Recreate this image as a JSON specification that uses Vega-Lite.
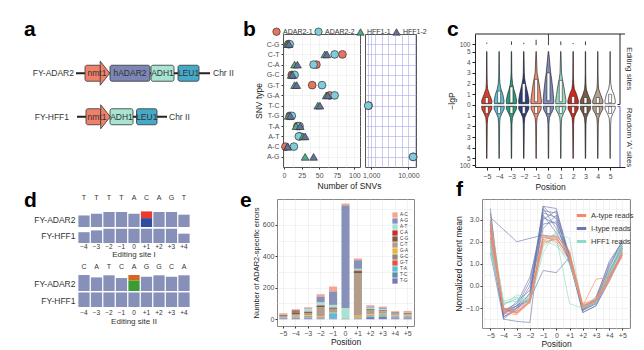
{
"$schema": "https://vega.github.io/schema/vega-lite/v6.json",
"background": "white",
"padding": {"left": 24, "top": 18, "right": 0, "bottom": 0},
"config": {
  "font": "Liberation Sans",
  "view": {"stroke": null},
  "axis": {"labelFontSize": 7, "labelColor": "#4d4d4d", "titleFontSize": 8.5, "titleFontWeight": "normal", "titleColor": "#1a1a1a", "domainColor": "#333333", "tickColor": "#333333", "tickSize": 3, "labelPadding": 2, "titlePadding": 3, "gridColor": "#ebebeb", "gridWidth": 0.6},
  "legend": {"labelFontSize": 7, "labelColor": "#333333"},
  "title": {"fontSize": 21, "fontWeight": "bold", "anchor": "start", "frame": "group", "color": "#000000", "offset": 0, "baseline": "alphabetic"}
},
"datasets": {
  "a_line": [{"row": 1, "s": 76, "e": 210}, {"row": 2, "s": 77, "e": 167}],
  "a_box": [
    {"row": 1, "el": "nmt1", "s": 85, "e": 101, "m": 97},
    {"row": 1, "el": "hADAR2", "s": 110, "e": 150, "m": 130},
    {"row": 1, "el": "ADH1", "s": 151, "e": 174, "m": 162.5},
    {"row": 1, "el": "LEU1", "s": 178, "e": 199, "m": 188.5},
    {"row": 2, "el": "nmt1", "s": 86, "e": 101, "m": 97},
    {"row": 2, "el": "ADH1", "s": 110, "e": 133, "m": 121.5},
    {"row": 2, "el": "LEU1", "s": 136.5, "e": 157, "m": 146.75}
  ],
  "a_head": [{"row": 1, "x": 105}, {"row": 2, "x": 105.5}],
  "a_name": [{"row": 1, "x": 74, "t": "FY-ADAR2"}, {"row": 2, "x": 69, "t": "FY-HFF1"}],
  "a_chr": [{"row": 1, "x": 213, "t": "Chr II"}, {"row": 2, "x": 169, "t": "Chr II"}],
  "snv": [
    {"t": "C-G", "s": "ADAR2-1", "n": 6}, {"t": "C-G", "s": "ADAR2-2", "n": 8}, {"t": "C-G", "s": "HFF1-1", "n": 5}, {"t": "C-G", "s": "HFF1-2", "n": 7},
    {"t": "C-T", "s": "ADAR2-1", "n": 83}, {"t": "C-T", "s": "ADAR2-2", "n": 72}, {"t": "C-T", "s": "HFF1-1", "n": 58}, {"t": "C-T", "s": "HFF1-2", "n": 61},
    {"t": "C-A", "s": "ADAR2-1", "n": 46}, {"t": "C-A", "s": "ADAR2-2", "n": 42}, {"t": "C-A", "s": "HFF1-1", "n": 15}, {"t": "C-A", "s": "HFF1-2", "n": 19},
    {"t": "G-C", "s": "ADAR2-1", "n": 11}, {"t": "G-C", "s": "ADAR2-2", "n": 15}, {"t": "G-C", "s": "HFF1-1", "n": 10}, {"t": "G-C", "s": "HFF1-2", "n": 12},
    {"t": "G-T", "s": "ADAR2-1", "n": 40}, {"t": "G-T", "s": "ADAR2-2", "n": 54}, {"t": "G-T", "s": "HFF1-1", "n": 15}, {"t": "G-T", "s": "HFF1-2", "n": 18},
    {"t": "G-A", "s": "ADAR2-1", "n": 65}, {"t": "G-A", "s": "ADAR2-2", "n": 72}, {"t": "G-A", "s": "HFF1-1", "n": 60}, {"t": "G-A", "s": "HFF1-2", "n": 62},
    {"t": "T-C", "s": "ADAR2-1", "n": 850}, {"t": "T-C", "s": "ADAR2-2", "n": 830}, {"t": "T-C", "s": "HFF1-1", "n": 48}, {"t": "T-C", "s": "HFF1-2", "n": 51},
    {"t": "T-G", "s": "ADAR2-1", "n": 8}, {"t": "T-G", "s": "ADAR2-2", "n": 11}, {"t": "T-G", "s": "HFF1-1", "n": 6}, {"t": "T-G", "s": "HFF1-2", "n": 9},
    {"t": "T-A", "s": "ADAR2-1", "n": 19}, {"t": "T-A", "s": "ADAR2-2", "n": 22}, {"t": "T-A", "s": "HFF1-1", "n": 17}, {"t": "T-A", "s": "HFF1-2", "n": 23},
    {"t": "A-T", "s": "ADAR2-1", "n": 22}, {"t": "A-T", "s": "ADAR2-2", "n": 21}, {"t": "A-T", "s": "HFF1-1", "n": 27}, {"t": "A-T", "s": "HFF1-2", "n": 30},
    {"t": "A-C", "s": "ADAR2-1", "n": 2}, {"t": "A-C", "s": "ADAR2-2", "n": 14}, {"t": "A-C", "s": "HFF1-1", "n": 5}, {"t": "A-C", "s": "HFF1-2", "n": 5},
    {"t": "A-G", "s": "ADAR2-1", "n": 13500}, {"t": "A-G", "s": "ADAR2-2", "n": 13300}, {"t": "A-G", "s": "HFF1-1", "n": 30}, {"t": "A-G", "s": "HFF1-2", "n": 42}
  ],
  "vio": [
    {"p": -5, "h": "E", "y": 0.12, "l": -5.4, "r": -4.6}, {"p": -5, "h": "E", "y": 0.4, "l": -5.42, "r": -4.58}, {"p": -5, "h": "E", "y": 1, "l": -5.22, "r": -4.78}, {"p": -5, "h": "E", "y": 1.5, "l": -5.07, "r": -4.93}, {"p": -5, "h": "E", "y": 2, "l": -5.04, "r": -4.96}, {"p": -5, "h": "E", "y": 2.5, "l": -5.03, "r": -4.97}, {"p": -5, "h": "E", "y": 3, "l": -5.025, "r": -4.975}, {"p": -5, "h": "E", "y": 5, "l": -5.015, "r": -4.985},
    {"p": -4, "h": "E", "y": 0.12, "l": -4.38, "r": -3.62}, {"p": -4, "h": "E", "y": 0.4, "l": -4.4, "r": -3.6}, {"p": -4, "h": "E", "y": 1, "l": -4.3, "r": -3.7}, {"p": -4, "h": "E", "y": 1.5, "l": -4.15, "r": -3.85}, {"p": -4, "h": "E", "y": 2, "l": -4.07, "r": -3.93}, {"p": -4, "h": "E", "y": 2.5, "l": -4.04, "r": -3.96}, {"p": -4, "h": "E", "y": 3, "l": -4.03, "r": -3.97}, {"p": -4, "h": "E", "y": 5, "l": -4.015, "r": -3.985},
    {"p": -3, "h": "E", "y": 0.12, "l": -3.4, "r": -2.6}, {"p": -3, "h": "E", "y": 0.4, "l": -3.42, "r": -2.58}, {"p": -3, "h": "E", "y": 1, "l": -3.32, "r": -2.68}, {"p": -3, "h": "E", "y": 1.5, "l": -3.18, "r": -2.82}, {"p": -3, "h": "E", "y": 2, "l": -3.09, "r": -2.91}, {"p": -3, "h": "E", "y": 2.5, "l": -3.05, "r": -2.95}, {"p": -3, "h": "E", "y": 3, "l": -3.03, "r": -2.97}, {"p": -3, "h": "E", "y": 5, "l": -3.015, "r": -2.985},
    {"p": -2, "h": "E", "y": 0.12, "l": -2.4, "r": -1.6}, {"p": -2, "h": "E", "y": 0.4, "l": -2.42, "r": -1.58}, {"p": -2, "h": "E", "y": 1, "l": -2.34, "r": -1.66}, {"p": -2, "h": "E", "y": 1.5, "l": -2.24, "r": -1.76}, {"p": -2, "h": "E", "y": 2, "l": -2.14, "r": -1.86}, {"p": -2, "h": "E", "y": 2.5, "l": -2.07, "r": -1.93}, {"p": -2, "h": "E", "y": 3, "l": -2.04, "r": -1.96}, {"p": -2, "h": "E", "y": 5, "l": -2.015, "r": -1.985},
    {"p": -1, "h": "E", "y": 0.12, "l": -1.42, "r": -0.58}, {"p": -1, "h": "E", "y": 0.4, "l": -1.43, "r": -0.57}, {"p": -1, "h": "E", "y": 1, "l": -1.36, "r": -0.64}, {"p": -1, "h": "E", "y": 1.5, "l": -1.3, "r": -0.7}, {"p": -1, "h": "E", "y": 2, "l": -1.24, "r": -0.76}, {"p": -1, "h": "E", "y": 2.5, "l": -1.16, "r": -0.84}, {"p": -1, "h": "E", "y": 3, "l": -1.08, "r": -0.92}, {"p": -1, "h": "E", "y": 5, "l": -1.015, "r": -0.985},
    {"p": 0, "h": "E", "y": 0.12, "l": -0.42, "r": 0.42}, {"p": 0, "h": "E", "y": 0.4, "l": -0.43, "r": 0.43}, {"p": 0, "h": "E", "y": 1, "l": -0.39, "r": 0.39}, {"p": 0, "h": "E", "y": 1.5, "l": -0.35, "r": 0.35}, {"p": 0, "h": "E", "y": 2, "l": -0.3, "r": 0.3}, {"p": 0, "h": "E", "y": 2.5, "l": -0.25, "r": 0.25}, {"p": 0, "h": "E", "y": 3, "l": -0.18, "r": 0.18}, {"p": 0, "h": "E", "y": 5, "l": -0.02, "r": 0.02},
    {"p": 1, "h": "E", "y": 0.12, "l": 0.6, "r": 1.4}, {"p": 1, "h": "E", "y": 0.4, "l": 0.58, "r": 1.42}, {"p": 1, "h": "E", "y": 1, "l": 0.66, "r": 1.34}, {"p": 1, "h": "E", "y": 1.5, "l": 0.72, "r": 1.28}, {"p": 1, "h": "E", "y": 2, "l": 0.8, "r": 1.2}, {"p": 1, "h": "E", "y": 2.5, "l": 0.88, "r": 1.12}, {"p": 1, "h": "E", "y": 3, "l": 0.94, "r": 1.06}, {"p": 1, "h": "E", "y": 5, "l": 0.985, "r": 1.015},
    {"p": 2, "h": "E", "y": 0.12, "l": 1.58, "r": 2.42}, {"p": 2, "h": "E", "y": 0.4, "l": 1.57, "r": 2.43}, {"p": 2, "h": "E", "y": 1, "l": 1.72, "r": 2.28}, {"p": 2, "h": "E", "y": 1.5, "l": 1.9, "r": 2.1}, {"p": 2, "h": "E", "y": 2, "l": 1.95, "r": 2.05}, {"p": 2, "h": "E", "y": 2.5, "l": 1.97, "r": 2.03}, {"p": 2, "h": "E", "y": 3, "l": 1.975, "r": 2.025}, {"p": 2, "h": "E", "y": 5, "l": 1.985, "r": 2.015},
    {"p": 3, "h": "E", "y": 0.12, "l": 2.58, "r": 3.42}, {"p": 3, "h": "E", "y": 0.4, "l": 2.58, "r": 3.42}, {"p": 3, "h": "E", "y": 1, "l": 2.8, "r": 3.2}, {"p": 3, "h": "E", "y": 1.5, "l": 2.93, "r": 3.07}, {"p": 3, "h": "E", "y": 2, "l": 2.96, "r": 3.04}, {"p": 3, "h": "E", "y": 2.5, "l": 2.97, "r": 3.03}, {"p": 3, "h": "E", "y": 3, "l": 2.98, "r": 3.02}, {"p": 3, "h": "E", "y": 5, "l": 2.985, "r": 3.015},
    {"p": 4, "h": "E", "y": 0.12, "l": 3.6, "r": 4.4}, {"p": 4, "h": "E", "y": 0.4, "l": 3.58, "r": 4.42}, {"p": 4, "h": "E", "y": 1, "l": 3.78, "r": 4.22}, {"p": 4, "h": "E", "y": 1.5, "l": 3.93, "r": 4.07}, {"p": 4, "h": "E", "y": 2, "l": 3.96, "r": 4.04}, {"p": 4, "h": "E", "y": 2.5, "l": 3.97, "r": 4.03}, {"p": 4, "h": "E", "y": 3, "l": 3.98, "r": 4.02}, {"p": 4, "h": "E", "y": 5, "l": 3.985, "r": 4.015},
    {"p": 5, "h": "E", "y": 0.12, "l": 4.6, "r": 5.4}, {"p": 5, "h": "E", "y": 0.4, "l": 4.58, "r": 5.42}, {"p": 5, "h": "E", "y": 1, "l": 4.7, "r": 5.3}, {"p": 5, "h": "E", "y": 1.5, "l": 4.88, "r": 5.12}, {"p": 5, "h": "E", "y": 2, "l": 4.95, "r": 5.05}, {"p": 5, "h": "E", "y": 2.5, "l": 4.97, "r": 5.03}, {"p": 5, "h": "E", "y": 3, "l": 4.98, "r": 5.02}, {"p": 5, "h": "E", "y": 5, "l": 4.985, "r": 5.015},
    {"p": -5, "h": "R", "y": -0.12, "l": -5.42, "r": -4.58}, {"p": -5, "h": "R", "y": -0.4, "l": -5.4, "r": -4.6}, {"p": -5, "h": "R", "y": -0.8, "l": -5.22, "r": -4.78}, {"p": -5, "h": "R", "y": -1.2, "l": -5.08, "r": -4.92}, {"p": -5, "h": "R", "y": -1.8, "l": -5.04, "r": -4.96}, {"p": -5, "h": "R", "y": -5, "l": -5.015, "r": -4.985},
    {"p": -4, "h": "R", "y": -0.12, "l": -4.42, "r": -3.58}, {"p": -4, "h": "R", "y": -0.4, "l": -4.4, "r": -3.6}, {"p": -4, "h": "R", "y": -0.8, "l": -4.22, "r": -3.78}, {"p": -4, "h": "R", "y": -1.2, "l": -4.08, "r": -3.92}, {"p": -4, "h": "R", "y": -1.8, "l": -4.04, "r": -3.96}, {"p": -4, "h": "R", "y": -5, "l": -4.015, "r": -3.985},
    {"p": -3, "h": "R", "y": -0.12, "l": -3.42, "r": -2.58}, {"p": -3, "h": "R", "y": -0.4, "l": -3.4, "r": -2.6}, {"p": -3, "h": "R", "y": -0.8, "l": -3.22, "r": -2.78}, {"p": -3, "h": "R", "y": -1.2, "l": -3.08, "r": -2.92}, {"p": -3, "h": "R", "y": -1.8, "l": -3.04, "r": -2.96}, {"p": -3, "h": "R", "y": -5, "l": -3.015, "r": -2.985},
    {"p": -2, "h": "R", "y": -0.12, "l": -2.42, "r": -1.58}, {"p": -2, "h": "R", "y": -0.4, "l": -2.4, "r": -1.6}, {"p": -2, "h": "R", "y": -0.8, "l": -2.22, "r": -1.78}, {"p": -2, "h": "R", "y": -1.2, "l": -2.08, "r": -1.92}, {"p": -2, "h": "R", "y": -1.8, "l": -2.04, "r": -1.96}, {"p": -2, "h": "R", "y": -5, "l": -2.015, "r": -1.985},
    {"p": -1, "h": "R", "y": -0.12, "l": -1.42, "r": -0.58}, {"p": -1, "h": "R", "y": -0.4, "l": -1.4, "r": -0.6}, {"p": -1, "h": "R", "y": -0.8, "l": -1.22, "r": -0.78}, {"p": -1, "h": "R", "y": -1.2, "l": -1.08, "r": -0.92}, {"p": -1, "h": "R", "y": -1.8, "l": -1.04, "r": -0.96}, {"p": -1, "h": "R", "y": -5, "l": -1.015, "r": -0.985},
    {"p": 0, "h": "R", "y": -0.12, "l": -0.42, "r": 0.42}, {"p": 0, "h": "R", "y": -0.4, "l": -0.4, "r": 0.4}, {"p": 0, "h": "R", "y": -0.8, "l": -0.22, "r": 0.22}, {"p": 0, "h": "R", "y": -1.2, "l": -0.08, "r": 0.08}, {"p": 0, "h": "R", "y": -1.8, "l": -0.04, "r": 0.04}, {"p": 0, "h": "R", "y": -5, "l": -0.015, "r": 0.015},
    {"p": 1, "h": "R", "y": -0.12, "l": 0.58, "r": 1.42}, {"p": 1, "h": "R", "y": -0.4, "l": 0.6, "r": 1.4}, {"p": 1, "h": "R", "y": -0.8, "l": 0.78, "r": 1.22}, {"p": 1, "h": "R", "y": -1.2, "l": 0.92, "r": 1.08}, {"p": 1, "h": "R", "y": -1.8, "l": 0.96, "r": 1.04}, {"p": 1, "h": "R", "y": -5, "l": 0.985, "r": 1.015},
    {"p": 2, "h": "R", "y": -0.12, "l": 1.58, "r": 2.42}, {"p": 2, "h": "R", "y": -0.4, "l": 1.6, "r": 2.4}, {"p": 2, "h": "R", "y": -0.8, "l": 1.78, "r": 2.22}, {"p": 2, "h": "R", "y": -1.2, "l": 1.92, "r": 2.08}, {"p": 2, "h": "R", "y": -1.8, "l": 1.96, "r": 2.04}, {"p": 2, "h": "R", "y": -5, "l": 1.985, "r": 2.015},
    {"p": 3, "h": "R", "y": -0.12, "l": 2.58, "r": 3.42}, {"p": 3, "h": "R", "y": -0.4, "l": 2.6, "r": 3.4}, {"p": 3, "h": "R", "y": -0.8, "l": 2.78, "r": 3.22}, {"p": 3, "h": "R", "y": -1.2, "l": 2.92, "r": 3.08}, {"p": 3, "h": "R", "y": -1.8, "l": 2.96, "r": 3.04}, {"p": 3, "h": "R", "y": -5, "l": 2.985, "r": 3.015},
    {"p": 4, "h": "R", "y": -0.12, "l": 3.58, "r": 4.42}, {"p": 4, "h": "R", "y": -0.4, "l": 3.6, "r": 4.4}, {"p": 4, "h": "R", "y": -0.8, "l": 3.78, "r": 4.22}, {"p": 4, "h": "R", "y": -1.2, "l": 3.92, "r": 4.08}, {"p": 4, "h": "R", "y": -1.8, "l": 3.96, "r": 4.04}, {"p": 4, "h": "R", "y": -5, "l": 3.985, "r": 4.015},
    {"p": 5, "h": "R", "y": -0.12, "l": 4.58, "r": 5.42}, {"p": 5, "h": "R", "y": -0.4, "l": 4.6, "r": 5.4}, {"p": 5, "h": "R", "y": -0.8, "l": 4.78, "r": 5.22}, {"p": 5, "h": "R", "y": -1.2, "l": 4.92, "r": 5.08}, {"p": 5, "h": "R", "y": -1.8, "l": 4.96, "r": 5.04}, {"p": 5, "h": "R", "y": -5, "l": 4.985, "r": 5.015}
  ],
  "vbox": [
    {"p": -5, "q1": 0.15, "q3": 0.7}, {"p": -4, "q1": 0.2, "q3": 1.3}, {"p": -3, "q1": 0.2, "q3": 1.7}, {"p": -2, "q1": 0.25, "q3": 2.0}, {"p": -1, "q1": 0.3, "q3": 2.4}, {"p": 0, "q1": 0.4, "q3": 3.0}, {"p": 1, "q1": 0.3, "q3": 2.3}, {"p": 2, "q1": 0.15, "q3": 0.8}, {"p": 3, "q1": 0.15, "q3": 0.7}, {"p": 4, "q1": 0.15, "q3": 0.7}, {"p": 5, "q1": 0.2, "q3": 1.0},
    {"p": -5, "q1": -0.15, "q3": -0.8}, {"p": -4, "q1": -0.15, "q3": -0.8}, {"p": -3, "q1": -0.15, "q3": -0.8}, {"p": -2, "q1": -0.15, "q3": -0.8}, {"p": -1, "q1": -0.15, "q3": -0.8}, {"p": 0, "q1": -0.15, "q3": -0.8}, {"p": 1, "q1": -0.15, "q3": -0.8}, {"p": 2, "q1": -0.15, "q3": -0.8}, {"p": 3, "q1": -0.15, "q3": -0.8}, {"p": 4, "q1": -0.15, "q3": -0.8}, {"p": 5, "q1": -0.15, "q3": -0.8}
  ],
  "vout": [
    {"p": -5, "lo": 5.72, "hi": 5.84}, {"p": -3, "lo": 5.62, "hi": 5.95}, {"p": -2, "lo": 5.7, "hi": 5.82}, {"p": -1, "lo": 5.6, "hi": 6.1}, {"p": 0, "lo": 5.6, "hi": 6.64}, {"p": 1, "lo": 5.6, "hi": 5.95}, {"p": 2, "lo": 5.7, "hi": 5.8}, {"p": 3, "lo": 5.6, "hi": 5.95}
  ],
  "cbrk": [
    {"g": "Editing sites", "y1": 0.05, "y2": 6.64, "ym": 3.4},
    {"g": "Random 'A' sites", "y1": -0.15, "y2": -5.8, "ym": -3.05}
  ],
  "dseq": [
    {"s": "I", "m": "FY-ADAR2", "p": "−4", "c": "match", "v": 0.74, "k": 1},
    {"s": "I", "m": "FY-ADAR2", "p": "−3", "c": "match", "v": 0.85, "k": 1},
    {"s": "I", "m": "FY-ADAR2", "p": "−2", "c": "match", "v": 0.96, "k": 1},
    {"s": "I", "m": "FY-ADAR2", "p": "−1", "c": "match", "v": 0.96, "k": 1},
    {"s": "I", "m": "FY-ADAR2", "p": "0", "c": "match", "v": 0.85, "k": 1},
    {"s": "I", "m": "FY-ADAR2", "p": "+1", "c": "C", "v": 0.57, "k": 1},
    {"s": "I", "m": "FY-ADAR2", "p": "+1", "c": "T", "v": 0.43, "k": 2},
    {"s": "I", "m": "FY-ADAR2", "p": "+2", "c": "match", "v": 0.96, "k": 1},
    {"s": "I", "m": "FY-ADAR2", "p": "+3", "c": "match", "v": 0.96, "k": 1},
    {"s": "I", "m": "FY-ADAR2", "p": "+4", "c": "match", "v": 0.79, "k": 1},
    {"s": "I", "m": "FY-HFF1", "p": "−4", "c": "match", "v": 0.72, "k": 1},
    {"s": "I", "m": "FY-HFF1", "p": "−3", "c": "match", "v": 0.84, "k": 1},
    {"s": "I", "m": "FY-HFF1", "p": "−2", "c": "match", "v": 0.95, "k": 1},
    {"s": "I", "m": "FY-HFF1", "p": "−1", "c": "match", "v": 0.95, "k": 1},
    {"s": "I", "m": "FY-HFF1", "p": "0", "c": "match", "v": 0.95, "k": 1},
    {"s": "I", "m": "FY-HFF1", "p": "+1", "c": "match", "v": 0.95, "k": 1},
    {"s": "I", "m": "FY-HFF1", "p": "+2", "c": "match", "v": 0.95, "k": 1},
    {"s": "I", "m": "FY-HFF1", "p": "+3", "c": "match", "v": 0.95, "k": 1},
    {"s": "I", "m": "FY-HFF1", "p": "+4", "c": "match", "v": 0.62, "k": 1},
    {"s": "II", "m": "FY-ADAR2", "p": "−4", "c": "match", "v": 1.0, "k": 1},
    {"s": "II", "m": "FY-ADAR2", "p": "−3", "c": "match", "v": 0.85, "k": 1},
    {"s": "II", "m": "FY-ADAR2", "p": "−2", "c": "match", "v": 0.98, "k": 1},
    {"s": "II", "m": "FY-ADAR2", "p": "−1", "c": "match", "v": 0.81, "k": 1},
    {"s": "II", "m": "FY-ADAR2", "p": "0", "c": "A", "v": 0.66, "k": 1},
    {"s": "II", "m": "FY-ADAR2", "p": "0", "c": "G", "v": 0.34, "k": 2},
    {"s": "II", "m": "FY-ADAR2", "p": "+1", "c": "match", "v": 0.89, "k": 1},
    {"s": "II", "m": "FY-ADAR2", "p": "+2", "c": "match", "v": 0.98, "k": 1},
    {"s": "II", "m": "FY-ADAR2", "p": "+3", "c": "match", "v": 0.89, "k": 1},
    {"s": "II", "m": "FY-ADAR2", "p": "+4", "c": "match", "v": 0.98, "k": 1},
    {"s": "II", "m": "FY-HFF1", "p": "−4", "c": "match", "v": 0.97, "k": 1},
    {"s": "II", "m": "FY-HFF1", "p": "−3", "c": "match", "v": 0.97, "k": 1},
    {"s": "II", "m": "FY-HFF1", "p": "−2", "c": "match", "v": 0.97, "k": 1},
    {"s": "II", "m": "FY-HFF1", "p": "−1", "c": "match", "v": 0.97, "k": 1},
    {"s": "II", "m": "FY-HFF1", "p": "0", "c": "match", "v": 0.97, "k": 1},
    {"s": "II", "m": "FY-HFF1", "p": "+1", "c": "match", "v": 0.97, "k": 1},
    {"s": "II", "m": "FY-HFF1", "p": "+2", "c": "match", "v": 0.97, "k": 1},
    {"s": "II", "m": "FY-HFF1", "p": "+3", "c": "match", "v": 0.97, "k": 1},
    {"s": "II", "m": "FY-HFF1", "p": "+4", "c": "match", "v": 0.97, "k": 1}
  ],
  "dlet": [
    {"s": "I", "p": "−4", "nt": "T"}, {"s": "I", "p": "−3", "nt": "T"}, {"s": "I", "p": "−2", "nt": "T"}, {"s": "I", "p": "−1", "nt": "T"}, {"s": "I", "p": "0", "nt": "A"}, {"s": "I", "p": "+1", "nt": "C"}, {"s": "I", "p": "+2", "nt": "A"}, {"s": "I", "p": "+3", "nt": "G"}, {"s": "I", "p": "+4", "nt": "T"},
    {"s": "II", "p": "−4", "nt": "C"}, {"s": "II", "p": "−3", "nt": "A"}, {"s": "II", "p": "−2", "nt": "T"}, {"s": "II", "p": "−1", "nt": "C"}, {"s": "II", "p": "0", "nt": "A"}, {"s": "II", "p": "+1", "nt": "G"}, {"s": "II", "p": "+2", "nt": "G"}, {"s": "II", "p": "+3", "nt": "C"}, {"s": "II", "p": "+4", "nt": "A"}
  ],
  "dsite": [{"s": "I", "t": "Editing site I"}, {"s": "II", "t": "Editing site II"}],
  "err": [
    {"p": "−5", "t": "A-C", "n": 5}, {"p": "−5", "t": "A-G", "n": 4}, {"p": "−5", "t": "A-T", "n": 2}, {"p": "−5", "t": "C-A", "n": 2}, {"p": "−5", "t": "C-G", "n": 5}, {"p": "−5", "t": "C-T", "n": 6}, {"p": "−5", "t": "G-A", "n": 3}, {"p": "−5", "t": "G-C", "n": 2}, {"p": "−5", "t": "G-T", "n": 1}, {"p": "−5", "t": "T-A", "n": 2}, {"p": "−5", "t": "T-C", "n": 3}, {"p": "−5", "t": "T-G", "n": 3},
    {"p": "−4", "t": "A-C", "n": 6}, {"p": "−4", "t": "A-G", "n": 5}, {"p": "−4", "t": "A-T", "n": 3}, {"p": "−4", "t": "C-A", "n": 8}, {"p": "−4", "t": "C-G", "n": 8}, {"p": "−4", "t": "C-T", "n": 12}, {"p": "−4", "t": "G-A", "n": 6}, {"p": "−4", "t": "G-C", "n": 3}, {"p": "−4", "t": "G-T", "n": 2}, {"p": "−4", "t": "T-A", "n": 3}, {"p": "−4", "t": "T-C", "n": 4}, {"p": "−4", "t": "T-G", "n": 4},
    {"p": "−3", "t": "A-C", "n": 8}, {"p": "−3", "t": "A-G", "n": 5}, {"p": "−3", "t": "A-T", "n": 15}, {"p": "−3", "t": "C-A", "n": 2}, {"p": "−3", "t": "C-G", "n": 6}, {"p": "−3", "t": "C-T", "n": 15}, {"p": "−3", "t": "G-A", "n": 6}, {"p": "−3", "t": "G-C", "n": 4}, {"p": "−3", "t": "G-T", "n": 3}, {"p": "−3", "t": "T-A", "n": 4}, {"p": "−3", "t": "T-C", "n": 4}, {"p": "−3", "t": "T-G", "n": 4},
    {"p": "−2", "t": "A-C", "n": 15}, {"p": "−2", "t": "A-G", "n": 38}, {"p": "−2", "t": "A-T", "n": 17}, {"p": "−2", "t": "C-A", "n": 2}, {"p": "−2", "t": "C-G", "n": 13}, {"p": "−2", "t": "C-T", "n": 57}, {"p": "−2", "t": "G-A", "n": 4}, {"p": "−2", "t": "G-C", "n": 3}, {"p": "−2", "t": "G-T", "n": 2}, {"p": "−2", "t": "T-A", "n": 3}, {"p": "−2", "t": "T-C", "n": 2}, {"p": "−2", "t": "T-G", "n": 3},
    {"p": "−1", "t": "A-C", "n": 32}, {"p": "−1", "t": "A-G", "n": 85}, {"p": "−1", "t": "A-T", "n": 17}, {"p": "−1", "t": "C-A", "n": 2}, {"p": "−1", "t": "C-G", "n": 6}, {"p": "−1", "t": "C-T", "n": 23}, {"p": "−1", "t": "G-A", "n": 2}, {"p": "−1", "t": "G-C", "n": 2}, {"p": "−1", "t": "G-T", "n": 1}, {"p": "−1", "t": "T-A", "n": 32}, {"p": "−1", "t": "T-C", "n": 3}, {"p": "−1", "t": "T-G", "n": 3},
    {"p": "0", "t": "A-C", "n": 13}, {"p": "0", "t": "A-G", "n": 652}, {"p": "0", "t": "A-T", "n": 64}, {"p": "0", "t": "C-A", "n": 0}, {"p": "0", "t": "C-G", "n": 0}, {"p": "0", "t": "C-T", "n": 1}, {"p": "0", "t": "G-A", "n": 1}, {"p": "0", "t": "G-C", "n": 1}, {"p": "0", "t": "G-T", "n": 0}, {"p": "0", "t": "T-A", "n": 1}, {"p": "0", "t": "T-C", "n": 1}, {"p": "0", "t": "T-G", "n": 1},
    {"p": "+1", "t": "A-C", "n": 11}, {"p": "+1", "t": "A-G", "n": 55}, {"p": "+1", "t": "A-T", "n": 11}, {"p": "+1", "t": "C-A", "n": 3}, {"p": "+1", "t": "C-G", "n": 16}, {"p": "+1", "t": "C-T", "n": 268}, {"p": "+1", "t": "G-A", "n": 11}, {"p": "+1", "t": "G-C", "n": 3}, {"p": "+1", "t": "G-T", "n": 2}, {"p": "+1", "t": "T-A", "n": 2}, {"p": "+1", "t": "T-C", "n": 2}, {"p": "+1", "t": "T-G", "n": 2},
    {"p": "+2", "t": "A-C", "n": 8}, {"p": "+2", "t": "A-G", "n": 8}, {"p": "+2", "t": "A-T", "n": 8}, {"p": "+2", "t": "C-A", "n": 2}, {"p": "+2", "t": "C-G", "n": 8}, {"p": "+2", "t": "C-T", "n": 25}, {"p": "+2", "t": "G-A", "n": 6}, {"p": "+2", "t": "G-C", "n": 3}, {"p": "+2", "t": "G-T", "n": 2}, {"p": "+2", "t": "T-A", "n": 5}, {"p": "+2", "t": "T-C", "n": 6}, {"p": "+2", "t": "T-G", "n": 8},
    {"p": "+3", "t": "A-C", "n": 6}, {"p": "+3", "t": "A-G", "n": 8}, {"p": "+3", "t": "A-T", "n": 8}, {"p": "+3", "t": "C-A", "n": 2}, {"p": "+3", "t": "C-G", "n": 6}, {"p": "+3", "t": "C-T", "n": 15}, {"p": "+3", "t": "G-A", "n": 5}, {"p": "+3", "t": "G-C", "n": 3}, {"p": "+3", "t": "G-T", "n": 2}, {"p": "+3", "t": "T-A", "n": 8}, {"p": "+3", "t": "T-C", "n": 9}, {"p": "+3", "t": "T-G", "n": 8},
    {"p": "+4", "t": "A-C", "n": 5}, {"p": "+4", "t": "A-G", "n": 6}, {"p": "+4", "t": "A-T", "n": 3}, {"p": "+4", "t": "C-A", "n": 2}, {"p": "+4", "t": "C-G", "n": 4}, {"p": "+4", "t": "C-T", "n": 6}, {"p": "+4", "t": "G-A", "n": 4}, {"p": "+4", "t": "G-C", "n": 3}, {"p": "+4", "t": "G-T", "n": 2}, {"p": "+4", "t": "T-A", "n": 5}, {"p": "+4", "t": "T-C", "n": 5}, {"p": "+4", "t": "T-G", "n": 6},
    {"p": "+5", "t": "A-C", "n": 6}, {"p": "+5", "t": "A-G", "n": 5}, {"p": "+5", "t": "A-T", "n": 3}, {"p": "+5", "t": "C-A", "n": 2}, {"p": "+5", "t": "C-G", "n": 5}, {"p": "+5", "t": "C-T", "n": 8}, {"p": "+5", "t": "G-A", "n": 5}, {"p": "+5", "t": "G-C", "n": 3}, {"p": "+5", "t": "G-T", "n": 2}, {"p": "+5", "t": "T-A", "n": 4}, {"p": "+5", "t": "T-C", "n": 4}, {"p": "+5", "t": "T-G", "n": 6}
  ],
  "cur": [
    {"g":"I","r":"I1","p":-5,"v":3.5},{"g":"I","r":"I1","p":-4,"v":-1.5},{"g":"I","r":"I1","p":-3,"v":-1.0},{"g":"I","r":"I1","p":-2,"v":-0.5},{"g":"I","r":"I1","p":-1,"v":3.6},{"g":"I","r":"I1","p":0,"v":3.5},{"g":"I","r":"I1","p":1,"v":1.2},{"g":"I","r":"I1","p":2,"v":-1.1},{"g":"I","r":"I1","p":3,"v":-0.8},{"g":"I","r":"I1","p":4,"v":0.6},{"g":"I","r":"I1","p":5,"v":1.9},
    {"g":"I","r":"I2","p":-5,"v":3.3},{"g":"I","r":"I2","p":-4,"v":-1.4},{"g":"I","r":"I2","p":-3,"v":-1.1},{"g":"I","r":"I2","p":-2,"v":-0.3},{"g":"I","r":"I2","p":-1,"v":3.4},{"g":"I","r":"I2","p":0,"v":3.3},{"g":"I","r":"I2","p":1,"v":1.3},{"g":"I","r":"I2","p":2,"v":-1.0},{"g":"I","r":"I2","p":3,"v":-0.7},{"g":"I","r":"I2","p":4,"v":0.5},{"g":"I","r":"I2","p":5,"v":1.8},
    {"g":"I","r":"I3","p":-5,"v":3.0},{"g":"I","r":"I3","p":-4,"v":-1.3},{"g":"I","r":"I3","p":-3,"v":-0.9},{"g":"I","r":"I3","p":-2,"v":0.2},{"g":"I","r":"I3","p":-1,"v":3.3},{"g":"I","r":"I3","p":0,"v":3.1},{"g":"I","r":"I3","p":1,"v":1.1},{"g":"I","r":"I3","p":2,"v":-1.2},{"g":"I","r":"I3","p":3,"v":-0.9},{"g":"I","r":"I3","p":4,"v":0.3},{"g":"I","r":"I3","p":5,"v":1.6},
    {"g":"I","r":"I4","p":-5,"v":2.8},{"g":"I","r":"I4","p":-4,"v":-1.2},{"g":"I","r":"I4","p":-3,"v":-1.0},{"g":"I","r":"I4","p":-2,"v":-0.6},{"g":"I","r":"I4","p":-1,"v":3.0},{"g":"I","r":"I4","p":0,"v":3.4},{"g":"I","r":"I4","p":1,"v":1.4},{"g":"I","r":"I4","p":2,"v":-1.0},{"g":"I","r":"I4","p":3,"v":-0.6},{"g":"I","r":"I4","p":4,"v":0.8},{"g":"I","r":"I4","p":5,"v":2.1},
    {"g":"I","r":"I5","p":-5,"v":2.5},{"g":"I","r":"I5","p":-4,"v":-1.1},{"g":"I","r":"I5","p":-3,"v":-0.8},{"g":"I","r":"I5","p":-2,"v":0.4},{"g":"I","r":"I5","p":-1,"v":2.8},{"g":"I","r":"I5","p":0,"v":2.9},{"g":"I","r":"I5","p":1,"v":1.0},{"g":"I","r":"I5","p":2,"v":-0.9},{"g":"I","r":"I5","p":3,"v":-0.7},{"g":"I","r":"I5","p":4,"v":0.7},{"g":"I","r":"I5","p":5,"v":1.7},
    {"g":"I","r":"I6","p":-5,"v":2.2},{"g":"I","r":"I6","p":-4,"v":-1.0},{"g":"I","r":"I6","p":-3,"v":-1.2},{"g":"I","r":"I6","p":-2,"v":-0.7},{"g":"I","r":"I6","p":-1,"v":3.5},{"g":"I","r":"I6","p":0,"v":2.6},{"g":"I","r":"I6","p":1,"v":1.5},{"g":"I","r":"I6","p":2,"v":-1.1},{"g":"I","r":"I6","p":3,"v":-0.8},{"g":"I","r":"I6","p":4,"v":0.4},{"g":"I","r":"I6","p":5,"v":1.5},
    {"g":"I","r":"I7","p":-5,"v":1.8},{"g":"I","r":"I7","p":-4,"v":-1.3},{"g":"I","r":"I7","p":-3,"v":-0.7},{"g":"I","r":"I7","p":-2,"v":-0.2},{"g":"I","r":"I7","p":-1,"v":2.6},{"g":"I","r":"I7","p":0,"v":3.2},{"g":"I","r":"I7","p":1,"v":1.2},{"g":"I","r":"I7","p":2,"v":-1.0},{"g":"I","r":"I7","p":3,"v":-0.5},{"g":"I","r":"I7","p":4,"v":1.0},{"g":"I","r":"I7","p":5,"v":2.0},
    {"g":"I","r":"I8","p":-5,"v":1.5},{"g":"I","r":"I8","p":-4,"v":-1.5},{"g":"I","r":"I8","p":-3,"v":-1.6},{"g":"I","r":"I8","p":-2,"v":-1.65},{"g":"I","r":"I8","p":-1,"v":3.2},{"g":"I","r":"I8","p":0,"v":2.4},{"g":"I","r":"I8","p":1,"v":1.3},{"g":"I","r":"I8","p":2,"v":-1.2},{"g":"I","r":"I8","p":3,"v":-0.9},{"g":"I","r":"I8","p":4,"v":0.2},{"g":"I","r":"I8","p":5,"v":1.4},
    {"g":"I","r":"I9","p":-5,"v":3.1},{"g":"I","r":"I9","p":-4,"v":2.55},{"g":"I","r":"I9","p":-3,"v":2.0},{"g":"I","r":"I9","p":-2,"v":2.15},{"g":"I","r":"I9","p":-1,"v":2.3},{"g":"I","r":"I9","p":0,"v":2.2},{"g":"I","r":"I9","p":1,"v":1.2},{"g":"I","r":"I9","p":2,"v":-1.0},{"g":"I","r":"I9","p":3,"v":-0.8},{"g":"I","r":"I9","p":4,"v":0.5},{"g":"I","r":"I9","p":5,"v":1.7},
    {"g":"I","r":"I10","p":-5,"v":2.6},{"g":"I","r":"I10","p":-4,"v":-1.2},{"g":"I","r":"I10","p":-3,"v":-0.9},{"g":"I","r":"I10","p":-2,"v":-0.6},{"g":"I","r":"I10","p":-1,"v":0.7},{"g":"I","r":"I10","p":0,"v":0.6},{"g":"I","r":"I10","p":1,"v":1.3},{"g":"I","r":"I10","p":2,"v":-0.9},{"g":"I","r":"I10","p":3,"v":-0.7},{"g":"I","r":"I10","p":4,"v":0.6},{"g":"I","r":"I10","p":5,"v":1.8},
    {"g":"I","r":"I11","p":-5,"v":2.0},{"g":"I","r":"I11","p":-4,"v":-1.4},{"g":"I","r":"I11","p":-3,"v":-1.0},{"g":"I","r":"I11","p":-2,"v":0.0},{"g":"I","r":"I11","p":-1,"v":3.1},{"g":"I","r":"I11","p":0,"v":2.8},{"g":"I","r":"I11","p":1,"v":1.1},{"g":"I","r":"I11","p":2,"v":-1.1},{"g":"I","r":"I11","p":3,"v":-0.6},{"g":"I","r":"I11","p":4,"v":1.1},{"g":"I","r":"I11","p":5,"v":2.0},
    {"g":"I","r":"I12","p":-5,"v":2.9},{"g":"I","r":"I12","p":-4,"v":-1.1},{"g":"I","r":"I12","p":-3,"v":-0.9},{"g":"I","r":"I12","p":-2,"v":-0.4},{"g":"I","r":"I12","p":-1,"v":3.6},{"g":"I","r":"I12","p":0,"v":3.0},{"g":"I","r":"I12","p":1,"v":1.4},{"g":"I","r":"I12","p":2,"v":-1.05},{"g":"I","r":"I12","p":3,"v":-0.75},{"g":"I","r":"I12","p":4,"v":0.9},{"g":"I","r":"I12","p":5,"v":1.9},
    {"g":"H","r":"H1","p":-5,"v":3.0},{"g":"H","r":"H1","p":-4,"v":-0.7},{"g":"H","r":"H1","p":-3,"v":-0.5},{"g":"H","r":"H1","p":-2,"v":-0.7},{"g":"H","r":"H1","p":-1,"v":2.0},{"g":"H","r":"H1","p":0,"v":2.4},{"g":"H","r":"H1","p":1,"v":2.15},{"g":"H","r":"H1","p":2,"v":-1.0},{"g":"H","r":"H1","p":3,"v":-0.7},{"g":"H","r":"H1","p":4,"v":0.5},{"g":"H","r":"H1","p":5,"v":1.8},
    {"g":"H","r":"H2","p":-5,"v":2.0},{"g":"H","r":"H2","p":-4,"v":-0.8},{"g":"H","r":"H2","p":-3,"v":-0.6},{"g":"H","r":"H2","p":-2,"v":-0.8},{"g":"H","r":"H2","p":-1,"v":1.8},{"g":"H","r":"H2","p":0,"v":2.2},{"g":"H","r":"H2","p":1,"v":-0.8},{"g":"H","r":"H2","p":2,"v":-1.0},{"g":"H","r":"H2","p":3,"v":-0.8},{"g":"H","r":"H2","p":4,"v":0.6},{"g":"H","r":"H2","p":5,"v":1.9},
    {"g":"H","r":"H3","p":-5,"v":1.6},{"g":"H","r":"H3","p":-4,"v":-0.9},{"g":"H","r":"H3","p":-3,"v":-0.4},{"g":"H","r":"H3","p":-2,"v":-0.6},{"g":"H","r":"H3","p":-1,"v":2.3},{"g":"H","r":"H3","p":0,"v":1.9},{"g":"H","r":"H3","p":1,"v":1.0},{"g":"H","r":"H3","p":2,"v":-0.9},{"g":"H","r":"H3","p":3,"v":-0.6},{"g":"H","r":"H3","p":4,"v":0.4},{"g":"H","r":"H3","p":5,"v":1.7},
    {"g":"H","r":"H4","p":-5,"v":2.5},{"g":"H","r":"H4","p":-4,"v":-0.75},{"g":"H","r":"H4","p":-3,"v":-0.7},{"g":"H","r":"H4","p":-2,"v":-0.75},{"g":"H","r":"H4","p":-1,"v":1.5},{"g":"H","r":"H4","p":0,"v":2.5},{"g":"H","r":"H4","p":1,"v":1.3},{"g":"H","r":"H4","p":2,"v":-0.95},{"g":"H","r":"H4","p":3,"v":-0.75},{"g":"H","r":"H4","p":4,"v":0.7},{"g":"H","r":"H4","p":5,"v":2.0},
    {"g":"H","r":"H5","p":-5,"v":1.8},{"g":"H","r":"H5","p":-4,"v":-0.85},{"g":"H","r":"H5","p":-3,"v":-0.55},{"g":"H","r":"H5","p":-2,"v":-0.65},{"g":"H","r":"H5","p":-1,"v":2.1},{"g":"H","r":"H5","p":0,"v":1.8},{"g":"H","r":"H5","p":1,"v":1.2},{"g":"H","r":"H5","p":2,"v":-1.0},{"g":"H","r":"H5","p":3,"v":-0.65},{"g":"H","r":"H5","p":4,"v":0.55},{"g":"H","r":"H5","p":5,"v":1.6},
    {"g":"A","r":"A1","p":-5,"v":3.0},{"g":"A","r":"A1","p":-4,"v":-1.1},{"g":"A","r":"A1","p":-3,"v":-1.2},{"g":"A","r":"A1","p":-2,"v":-0.7},{"g":"A","r":"A1","p":-1,"v":2.2},{"g":"A","r":"A1","p":0,"v":2.3},{"g":"A","r":"A1","p":1,"v":1.5},{"g":"A","r":"A1","p":2,"v":-0.8},{"g":"A","r":"A1","p":3,"v":-0.6},{"g":"A","r":"A1","p":4,"v":0.3},{"g":"A","r":"A1","p":5,"v":1.5},
    {"g":"A","r":"A2","p":-5,"v":2.7},{"g":"A","r":"A2","p":-4,"v":-1.2},{"g":"A","r":"A2","p":-3,"v":-1.3},{"g":"A","r":"A2","p":-2,"v":-0.7},{"g":"A","r":"A2","p":-1,"v":2.0},{"g":"A","r":"A2","p":0,"v":2.1},{"g":"A","r":"A2","p":1,"v":1.4},{"g":"A","r":"A2","p":2,"v":-0.9},{"g":"A","r":"A2","p":3,"v":0.3},{"g":"A","r":"A2","p":4,"v":0.4},{"g":"A","r":"A2","p":5,"v":1.3},
    {"g":"A","r":"A3","p":-5,"v":2.5},{"g":"A","r":"A3","p":-4,"v":-1.0},{"g":"A","r":"A3","p":-3,"v":-1.1},{"g":"A","r":"A3","p":-2,"v":-0.6},{"g":"A","r":"A3","p":-1,"v":2.3},{"g":"A","r":"A3","p":0,"v":2.0},{"g":"A","r":"A3","p":1,"v":1.2},{"g":"A","r":"A3","p":2,"v":-1.0},{"g":"A","r":"A3","p":3,"v":-0.7},{"g":"A","r":"A3","p":4,"v":0.2},{"g":"A","r":"A3","p":5,"v":1.6},
    {"g":"A","r":"A4","p":-5,"v":2.2},{"g":"A","r":"A4","p":-4,"v":-1.1},{"g":"A","r":"A4","p":-3,"v":-1.25},{"g":"A","r":"A4","p":-2,"v":-0.75},{"g":"A","r":"A4","p":-1,"v":1.9},{"g":"A","r":"A4","p":0,"v":2.2},{"g":"A","r":"A4","p":1,"v":1.3},{"g":"A","r":"A4","p":2,"v":-0.85},{"g":"A","r":"A4","p":3,"v":-0.65},{"g":"A","r":"A4","p":4,"v":0.5},{"g":"A","r":"A4","p":5,"v":1.4},
    {"g":"A","r":"A5","p":-5,"v":2.9},{"g":"A","r":"A5","p":-4,"v":-1.15},{"g":"A","r":"A5","p":-3,"v":-1.15},{"g":"A","r":"A5","p":-2,"v":-0.65},{"g":"A","r":"A5","p":-1,"v":2.1},{"g":"A","r":"A5","p":0,"v":2.25},{"g":"A","r":"A5","p":1,"v":1.6},{"g":"A","r":"A5","p":2,"v":-0.95},{"g":"A","r":"A5","p":3,"v":-0.6},{"g":"A","r":"A5","p":4,"v":0.35},{"g":"A","r":"A5","p":5,"v":1.5},
    {"g":"A","r":"A6","p":-5,"v":2.4},{"g":"A","r":"A6","p":-4,"v":-1.05},{"g":"A","r":"A6","p":-3,"v":-1.2},{"g":"A","r":"A6","p":-2,"v":-0.7},{"g":"A","r":"A6","p":-1,"v":2.2},{"g":"A","r":"A6","p":0,"v":2.1},{"g":"A","r":"A6","p":1,"v":1.35},{"g":"A","r":"A6","p":2,"v":-0.9},{"g":"A","r":"A6","p":3,"v":-0.7},{"g":"A","r":"A6","p":4,"v":0.3},{"g":"A","r":"A6","p":5,"v":1.45}
  ]
},
"spacing": -13,
"resolve": {"scale": {"color": "independent", "shape": "independent", "stroke": "independent"}},
"vconcat": [
 {
  "spacing": 5,
  "bounds": "flush",
  "resolve": {"scale": {"color": "independent", "shape": "independent", "stroke": "independent"}},
  "hconcat": [
  {
    "width": 200, "height": 133,
    "title": {"text": "a", "dx": -54, "dy": 10},
    "layer": [
      {"data": {"name": "a_line"}, "mark": {"type": "rule", "strokeWidth": 2, "color": "#222222"},
       "encoding": {
         "x": {"field": "s", "type": "quantitative", "scale": {"domain": [78, 278], "nice": false, "zero": false}, "axis": null},
         "x2": {"field": "e"},
         "y": {"field": "row", "type": "quantitative", "scale": {"domain": [0.213, 3.04], "reverse": true, "nice": false, "zero": false}, "axis": null}}},
      {"data": {"name": "a_box"}, "mark": {"type": "bar", "height": 16, "cornerRadius": 2, "stroke": "#333333", "strokeWidth": 0.8},
       "encoding": {
         "x": {"field": "s", "type": "quantitative"}, "x2": {"field": "e"},
         "y": {"field": "row", "type": "quantitative"},
         "color": {"field": "el", "type": "nominal", "scale": {"domain": ["nmt1", "hADAR2", "ADH1", "LEU1"], "range": ["#EF8069", "#7C85B4", "#A8E4D1", "#45AAC7"]}, "legend": null}}},
      {"data": {"name": "a_head"}, "mark": {"type": "point", "shape": "M-0.4,-1L0.4,0L-0.4,1Z", "size": 576, "filled": true, "fill": "#EF8069", "stroke": "#333333", "strokeWidth": 0.8, "opacity": 1},
       "encoding": {"x": {"field": "x", "type": "quantitative"}, "y": {"field": "row", "type": "quantitative"}}},
      {"data": {"name": "a_box"}, "mark": {"type": "text", "fontSize": 8.5, "color": "#333333"},
       "encoding": {"x": {"field": "m", "type": "quantitative"}, "y": {"field": "row", "type": "quantitative"}, "text": {"field": "el"}}},
      {"data": {"name": "a_name"}, "mark": {"type": "text", "fontSize": 8.5, "color": "#333333", "align": "right"},
       "encoding": {"x": {"field": "x", "type": "quantitative"}, "y": {"field": "row", "type": "quantitative"}, "text": {"field": "t"}}},
      {"data": {"name": "a_chr"}, "mark": {"type": "text", "fontSize": 8.5, "color": "#333333", "align": "left"},
       "encoding": {"x": {"field": "x", "type": "quantitative"}, "y": {"field": "row", "type": "quantitative"}, "text": {"field": "t"}}}
    ]
  },
  {
    "width": 77, "height": 133,
    "title": {"text": "b", "dx": -40, "dy": 17},
    "data": {"name": "snv"},
    "transform": [{"filter": "datum.n <= 100"}],
    "mark": {"type": "point", "filled": true, "size": 60, "stroke": "#333333", "strokeWidth": 0.7, "opacity": 1},
    "view": {"stroke": "#555555"},
    "encoding": {
      "y": {"field": "t", "type": "nominal", "sort": ["C-G", "C-T", "C-A", "G-C", "G-T", "G-A", "T-C", "T-G", "T-A", "A-T", "A-C", "A-G"], "scale": {"domain": ["C-G", "C-T", "C-A", "G-C", "G-T", "G-A", "T-C", "T-G", "T-A", "A-T", "A-C", "A-G"], "padding": 0.99}, "axis": {"title": "SNV type", "grid": true, "domain": false, "tickSize": 2}},
      "x": {"field": "n", "type": "quantitative", "scale": {"domain": [-1.5, 108], "nice": false, "zero": false}, "axis": {"values": [0, 12.5, 25, 37.5, 50, 62.5, 75, 87.5, 100], "tickCount": 20, "labelExpr": "datum.value % 25 ? '' : datum.label", "tickOpacity": {"condition": {"test": "datum.value % 25", "value": 0}, "value": 1}, "title": "Number of SNVs", "titleX": 66, "domain": false, "tickSize": 2}},
      "color": {"field": "s", "type": "nominal", "scale": {"domain": ["ADAR2-1", "ADAR2-2", "HFF1-1", "HFF1-2"], "range": ["#E8735F", "#7FCCDA", "#4FA98A", "#65709F"]}, "legend": {"orient": "none", "legendX": -11, "legendY": -7, "direction": "horizontal", "title": null, "labelFontSize": 7, "symbolSize": 55, "columnPadding": 0, "labelOffset": 2, "symbolStrokeColor": "#333333", "symbolStrokeWidth": 0.7}},
      "shape": {"field": "s", "type": "nominal", "scale": {"domain": ["ADAR2-1", "ADAR2-2", "HFF1-1", "HFF1-2"], "range": ["circle", "circle", "triangle-up", "triangle-up"]}, "legend": {"orient": "none", "legendX": -11, "legendY": -7, "direction": "horizontal", "title": null, "labelFontSize": 7, "symbolSize": 55, "columnPadding": 0, "labelOffset": 2, "symbolStrokeColor": "#333333", "symbolStrokeWidth": 0.7}}
    }
  },
  {
    "width": 51, "height": 133,
    "data": {"name": "snv"},
    "transform": [{"filter": "datum.n > 100"}],
    "mark": {"type": "point", "filled": true, "size": 60, "stroke": "#333333", "strokeWidth": 0.7, "opacity": 1},
    "view": {"stroke": "#555555"},
    "encoding": {
      "y": {"field": "t", "type": "nominal", "scale": {"domain": ["C-G", "C-T", "C-A", "G-C", "G-T", "G-A", "T-C", "T-G", "T-A", "A-T", "A-C", "A-G"], "padding": 0.99}, "axis": {"labels": false, "ticks": false, "domain": false, "title": null, "grid": true, "gridColor": "#a9a9ea"}},
      "x": {"field": "n", "type": "quantitative", "scale": {"type": "log", "domain": [680, 16000], "nice": false}, "axis": {"values": [800, 1000, 1300, 1900, 2900, 4300, 6600, 10000, 14900], "tickCount": 20, "labelExpr": "datum.value == 1000 ? '1,000' : datum.value == 10000 ? '10,000' : ''", "tickOpacity": {"condition": {"test": "datum.value == 1000 || datum.value == 10000", "value": 1}, "value": 0}, "title": null, "gridColor": "#a9a9ea", "domain": false, "tickSize": 2}},
      "color": {"field": "s", "type": "nominal", "scale": {"domain": ["ADAR2-1", "ADAR2-2", "HFF1-1", "HFF1-2"], "range": ["#E8735F", "#7FCCDA", "#4FA98A", "#65709F"]}, "legend": null},
      "shape": {"field": "s", "type": "nominal", "scale": {"domain": ["ADAR2-1", "ADAR2-2", "HFF1-1", "HFF1-2"], "range": ["circle", "circle", "triangle-up", "triangle-up"]}, "legend": null}
    }
  },
  {"width": 49, "height": 1, "data": {"values": []}, "mark": {"type": "point"}, "encoding": {}},
  {
    "width": 150, "height": 133,
    "title": {"text": "c", "dx": -28, "dy": 10},
    "layer": [
      {"data": {"name": "vio"}, "mark": {"type": "area", "orient": "horizontal", "stroke": "#111111", "strokeWidth": 0.6, "fillOpacity": 1},
       "encoding": {
         "y": {"field": "y", "type": "quantitative", "scale": {"domain": [-5.8, 6.64], "nice": false, "zero": false}, "axis": {"values": [-5.65, -5, -4, -3, -2, -1, 0, 1, 2, 3, 4, 5, 5.68], "tickCount": 30, "labelExpr": "abs(datum.value) > 5.2 ? '100' : format(abs(datum.value), 'd')", "labelOverlap": false, "labelFontSize": 6.5, "title": "−lgP", "grid": false, "domainColor": "#222222", "tickColor": "#222222"}},
         "x": {"field": "l", "type": "quantitative", "scale": {"domain": [-5.55, 5.8], "nice": false, "zero": false}, "axis": {"values": [-5, -4, -3, -2, -1, 0, 1, 2, 3, 4, 5], "tickCount": 30, "format": "d", "labelOverlap": false, "title": "Position", "grid": false, "domainColor": "#222222", "tickColor": "#222222"}},
         "x2": {"field": "r"},
         "color": {"field": "p", "type": "ordinal", "scale": {"domain": [-5, -4, -3, -2, -1, 0, 1, 2, 3, 4, 5], "range": ["#D6402C", "#5DC1D6", "#2B9E7E", "#2D3E80", "#F08E73", "#7F8BBA", "#96DCC6", "#D0281F", "#7A5C48", "#B4A08C", "#FFFFFF"]}, "legend": null},
         "detail": {"field": "h"}}},
      {"data": {"name": "vbox"}, "mark": {"type": "bar", "width": 3, "fill": "#FFFFFF", "stroke": "#111111", "strokeWidth": 0.5},
       "encoding": {"x": {"field": "p", "type": "quantitative"}, "y": {"field": "q1", "type": "quantitative"}, "y2": {"field": "q3"}}},
      {"data": {"name": "vout"}, "mark": {"type": "rule", "color": "#111111", "strokeWidth": 0.8},
       "encoding": {"x": {"field": "p", "type": "quantitative"}, "y": {"field": "lo", "type": "quantitative"}, "y2": {"field": "hi"}}},
      {"data": {"values": [{"y": 6.64}]}, "mark": {"type": "rule", "color": "#222222", "strokeWidth": 1},
       "encoding": {"y": {"field": "y", "type": "quantitative"}}},
      {"data": {"name": "cbrk"}, "mark": {"type": "rule", "strokeWidth": 1},
       "encoding": {"x": {"datum": 5.8}, "y": {"field": "y1", "type": "quantitative"}, "y2": {"field": "y2"},
         "stroke": {"field": "g", "type": "nominal", "scale": {"domain": ["Editing sites", "Random 'A' sites"], "range": ["#222222", "#5B5BD6"]}, "legend": null}}},
      {"data": {"name": "cbrk"}, "mark": {"type": "rule", "strokeWidth": 1},
       "encoding": {"x": {"datum": 5.6}, "x2": {"datum": 5.8}, "y": {"field": "y1", "type": "quantitative"},
         "stroke": {"field": "g", "type": "nominal"}}},
      {"data": {"name": "cbrk"}, "mark": {"type": "text", "angle": 90, "fontSize": 8, "color": "#333333", "align": "center", "baseline": "middle"},
       "encoding": {"x": {"datum": 6.55}, "y": {"field": "ym", "type": "quantitative"}, "text": {"field": "g"}}}
    ]
  }
  ]
 },
 {
  "spacing": 5,
  "bounds": "flush",
  "resolve": {"scale": {"color": "independent"}},
  "hconcat": [
  {
    "width": 112, "height": 108,
    "title": {"text": "d", "dx": -54, "dy": 21.5},
    "resolve": {"scale": {"y": "independent"}},
    "layer": [
      {
        "layer": [
          {"data": {"name": "dseq"}, "transform": [{"filter": "datum.s == 'I' && datum.m == 'FY-ADAR2'"}], "mark": {"type": "bar"},
           "encoding": {
             "x": {"field": "p", "type": "ordinal", "sort": ["−4", "−3", "−2", "−1", "0", "+1", "+2", "+3", "+4"], "scale": {"paddingInner": 0.1, "paddingOuter": 0.03}, "axis": null},
             "y": {"field": "v", "type": "quantitative", "scale": {"domain": [-5.128, 1.795], "nice": false, "zero": false}, "axis": {"orient": "left", "title": "FY-ADAR2", "labels": false, "ticks": false, "domain": false, "grid": false, "titleAngle": 0, "titleAlign": "right", "titleBaseline": "middle", "titleX": -3, "titleY": 20, "titleFontSize": 8.5, "titleColor": "#333333"}},
             "color": {"field": "c", "type": "nominal", "scale": {"domain": ["match", "A", "C", "G", "T"], "range": ["#8790B8", "#3B9B34", "#2F4C9F", "#D1691F", "#E63D2E"]}, "legend": null},
             "order": {"field": "k", "type": "quantitative"}}},
          {"data": {"name": "dlet"}, "transform": [{"filter": "datum.s == 'I'"}], "mark": {"type": "text", "fontSize": 7, "color": "#333333", "baseline": "middle"},
           "encoding": {"x": {"field": "p", "type": "ordinal", "sort": ["−4", "−3", "−2", "−1", "0", "+1", "+2", "+3", "+4"]}, "y": {"datum": 1.89}, "text": {"field": "nt"}}}
        ]
      },
      {
        "layer": [
          {"data": {"name": "dseq"}, "transform": [{"filter": "datum.s == 'I' && datum.m == 'FY-HFF1'"}], "mark": {"type": "bar"},
           "encoding": {
             "x": {"field": "p", "type": "ordinal", "sort": ["−4", "−3", "−2", "−1", "0", "+1", "+2", "+3", "+4"]},
             "y": {"field": "v", "type": "quantitative", "scale": {"domain": [-4.267, 2.933], "nice": false, "zero": false}, "axis": {"orient": "left", "title": "FY-HFF1", "labels": false, "ticks": false, "domain": false, "grid": false, "titleAngle": 0, "titleAlign": "right", "titleBaseline": "middle", "titleX": -3, "titleY": 36.5, "titleFontSize": 8.5, "titleColor": "#333333"}},
             "color": {"field": "c", "type": "nominal"},
             "order": {"field": "k", "type": "quantitative"}}},
          {"data": {"name": "dseq"}, "transform": [{"filter": "datum.s == 'I' && datum.m == 'FY-HFF1'"}], "mark": {"type": "text", "fontSize": 6.5, "color": "#333333", "baseline": "middle"},
           "encoding": {"x": {"field": "p", "type": "ordinal", "sort": ["−4", "−3", "−2", "−1", "0", "+1", "+2", "+3", "+4"]}, "y": {"datum": -0.27}, "text": {"field": "p"}}},
          {"data": {"name": "dsite"}, "transform": [{"filter": "datum.s == 'I'"}], "mark": {"type": "text", "fontSize": 8, "color": "#333333", "baseline": "middle"},
           "encoding": {"x": {"datum": "0", "type": "ordinal"}, "y": {"datum": -0.8}, "text": {"field": "t"}}}
        ]
      },
      {
        "layer": [
          {"data": {"name": "dseq"}, "transform": [{"filter": "datum.s == 'II' && datum.m == 'FY-ADAR2'"}], "mark": {"type": "bar"},
           "encoding": {
             "x": {"field": "p", "type": "ordinal", "sort": ["−4", "−3", "−2", "−1", "0", "+1", "+2", "+3", "+4"]},
             "y": {"field": "v", "type": "quantitative", "scale": {"domain": [-1.0, 5.75], "nice": false, "zero": false}, "axis": {"orient": "left", "title": "FY-ADAR2", "labels": false, "ticks": false, "domain": false, "grid": false, "titleAngle": 0, "titleAlign": "right", "titleBaseline": "middle", "titleX": -3, "titleY": 84, "titleFontSize": 8.5, "titleColor": "#333333"}},
             "color": {"field": "c", "type": "nominal"},
             "order": {"field": "k", "type": "quantitative"}}},
          {"data": {"name": "dlet"}, "transform": [{"filter": "datum.s == 'II'"}], "mark": {"type": "text", "fontSize": 7, "color": "#333333", "baseline": "middle"},
           "encoding": {"x": {"field": "p", "type": "ordinal", "sort": ["−4", "−3", "−2", "−1", "0", "+1", "+2", "+3", "+4"]}, "y": {"datum": 1.53}, "text": {"field": "nt"}}}
        ]
      },
      {
        "layer": [
          {"data": {"name": "dseq"}, "transform": [{"filter": "datum.s == 'II' && datum.m == 'FY-HFF1'"}], "mark": {"type": "bar"},
           "encoding": {
             "x": {"field": "p", "type": "ordinal", "sort": ["−4", "−3", "−2", "−1", "0", "+1", "+2", "+3", "+4"]},
             "y": {"field": "v", "type": "quantitative", "scale": {"domain": [0, 7.2], "nice": false, "zero": false}, "axis": {"orient": "left", "title": "FY-HFF1", "labels": false, "ticks": false, "domain": false, "grid": false, "titleAngle": 0, "titleAlign": "right", "titleBaseline": "middle", "titleX": -3, "titleY": 101, "titleFontSize": 8.5, "titleColor": "#333333"}},
             "color": {"field": "c", "type": "nominal"},
             "order": {"field": "k", "type": "quantitative"}}},
          {"data": {"name": "dseq"}, "transform": [{"filter": "datum.s == 'II' && datum.m == 'FY-HFF1'"}], "mark": {"type": "text", "fontSize": 6.5, "color": "#333333", "baseline": "middle"},
           "encoding": {"x": {"field": "p", "type": "ordinal", "sort": ["−4", "−3", "−2", "−1", "0", "+1", "+2", "+3", "+4"]}, "y": {"datum": -0.4}, "text": {"field": "p"}}},
          {"data": {"name": "dsite"}, "transform": [{"filter": "datum.s == 'II'"}], "mark": {"type": "text", "fontSize": 8, "color": "#333333", "baseline": "middle"},
           "encoding": {"x": {"datum": "0", "type": "ordinal"}, "y": {"datum": -1.0}, "text": {"field": "t"}}}
        ]
      }
    ]
  },
  {"width": 77, "height": 1, "data": {"values": []}, "mark": {"type": "point"}, "encoding": {}},
  {
    "width": 137, "height": 127,
    "title": {"text": "e", "dx": -37, "dy": 16},
    "data": {"name": "err"},
    "mark": {"type": "bar"},
    "view": {"stroke": "#888888"},
    "encoding": {
      "x": {"field": "p", "type": "ordinal", "sort": ["−5", "−4", "−3", "−2", "−1", "0", "+1", "+2", "+3", "+4", "+5"], "scale": {"paddingInner": 0.35, "paddingOuter": 0.185}, "axis": {"labelAngle": 0, "grid": true, "title": "Position", "domain": false, "tickSize": 2, "labelPadding": 1, "titlePadding": 1}},
      "y": {"field": "n", "type": "quantitative", "scale": {"domain": [-43, 764], "nice": false, "zero": false}, "axis": {"values": [0, 100, 200, 300, 400, 500, 600, 700], "tickCount": 20, "labelExpr": "datum.value % 200 ? '' : datum.label", "tickOpacity": {"condition": {"test": "datum.value % 200", "value": 0}, "value": 1}, "title": "Number of ADAR2-specific errors", "titleFontSize": 7.5, "domain": false, "tickSize": 2, "labelPadding": 1, "titlePadding": 2}},
      "color": {"field": "t", "type": "nominal", "scale": {"domain": ["A-C", "A-G", "A-T", "C-A", "C-G", "C-T", "G-A", "G-C", "G-T", "T-A", "T-C", "T-G"], "range": ["#F6A68F", "#8690B8", "#A9E2D2", "#C9302A", "#7B5B46", "#B19D8A", "#EBB33C", "#8E8781", "#E3543F", "#5DBDD4", "#5F8FA5", "#7C75B7"]}, "legend": {"orient": "none", "legendX": 115, "legendY": 13, "title": null, "symbolType": "square", "symbolSize": 28, "symbolStrokeWidth": 0, "labelFontSize": 4.5, "rowPadding": 0, "labelOffset": 2, "padding": 0}},
      "order": {"field": "t", "sort": "descending"}
    }
  },
  {"width": 58, "height": 1, "data": {"values": []}, "mark": {"type": "point"}, "encoding": {}},
  {
    "width": 148, "height": 129,
    "title": {"text": "f", "dx": -26, "dy": 5},
    "data": {"name": "cur"},
    "mark": {"type": "line", "strokeWidth": 0.8, "opacity": 0.8},
    "view": {"stroke": "#888888"},
    "encoding": {
      "x": {"field": "p", "type": "quantitative", "scale": {"domain": [-5.63, 5.58], "nice": false, "zero": false}, "axis": {"values": [-5.5, -5, -4.5, -4, -3.5, -3, -2.5, -2, -1.5, -1, -0.5, 0, 0.5, 1, 1.5, 2, 2.5, 3, 3.5, 4, 4.5, 5, 5.5], "tickCount": 40, "labelExpr": "datum.value % 1 != 0 ? '' : datum.value > 0 ? '+' + datum.value : datum.value < 0 ? '−' + abs(datum.value) : '0'", "labelOverlap": false, "tickOpacity": {"condition": {"test": "datum.value % 1 != 0", "value": 0}, "value": 1}, "title": "Position", "domain": false, "tickSize": 2, "labelPadding": 1, "titlePadding": 1}},
      "y": {"field": "v", "type": "quantitative", "scale": {"domain": [-1.9, 3.93], "nice": false, "zero": false}, "axis": {"values": [-1.5, -1, -0.5, 0, 0.5, 1, 1.5, 2, 2.5, 3, 3.5], "tickCount": 40, "labelExpr": "datum.value % 1 != 0 ? '' : datum.label", "labelOverlap": false, "tickOpacity": {"condition": {"test": "datum.value % 1 != 0", "value": 0}, "value": 1}, "title": "Normalized current mean", "domain": false, "tickSize": 2, "labelPadding": 1, "titlePadding": 2}},
      "color": {"field": "g", "type": "nominal", "scale": {"domain": ["A", "I", "H"], "range": ["#F4896B", "#6D77AC", "#8EDCC4"]}, "legend": {"orient": "none", "legendX": 93, "legendY": 10, "title": null, "symbolType": "stroke", "symbolStrokeWidth": 3, "symbolSize": 90, "symbolOpacity": 1, "labelFontSize": 7.5, "rowPadding": 0, "labelOffset": 3, "labelExpr": "datum.label == 'A' ? 'A-type reads' : datum.label == 'I' ? 'I-type reads' : 'HFF1 reads'"}},
      "detail": {"field": "r"}
    }
  }
  ]
 }
]
}
